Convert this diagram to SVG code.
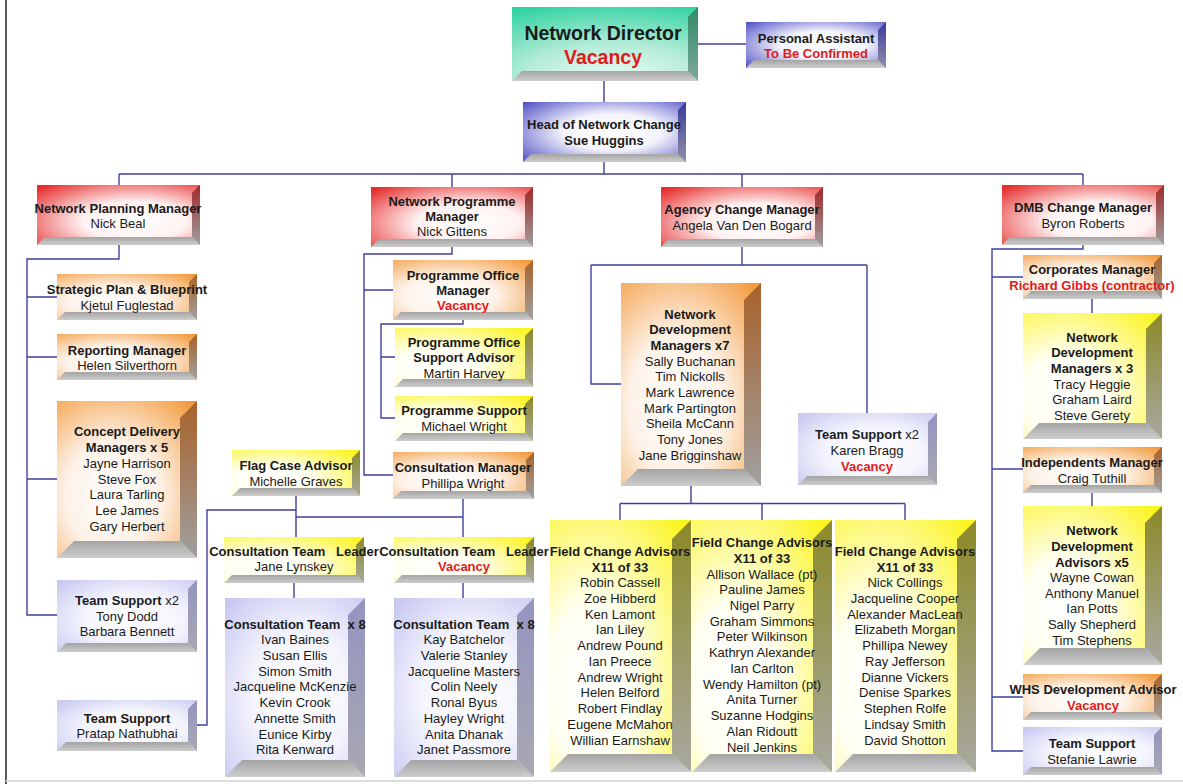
<svg xmlns="http://www.w3.org/2000/svg" width="1183" height="784" viewBox="0 0 1183 784">
<style>
text{font-family:"Liberation Sans",Arial,sans-serif;font-size:13px;text-anchor:middle;fill:#1a1a1a}
.b{font-weight:bold}
.r{font-weight:bold;fill:#e01b1b}
.n{font-weight:normal}
.pre{white-space:pre}
.big{font-size:19.5px;font-weight:bold}
.fG{fill:url(#gG)}.rG{fill:url(#gGr)}
.fB{fill:url(#gB)}.rB{fill:url(#gBr)}
.fL{fill:url(#gL)}.rL{fill:url(#gLr)}
.fR{fill:url(#gR)}.rR{fill:url(#gRr)}
.fO{fill:url(#gO)}.rO{fill:url(#gOr)}
.fY{fill:url(#gY)}.rY{fill:url(#gYr)}
.bot{fill:url(#gBot)}
#connectors path{fill:none;stroke:#3f3f9c;stroke-width:1.4}
</style>
<defs>
<radialGradient id="gG" cx="0.55" cy="1" r="1.1"><stop offset="0" stop-color="#eefcf6"/><stop offset="0.45" stop-color="#b4ecd8"/><stop offset="1" stop-color="#2ed2a0"/></radialGradient>
<linearGradient id="gGr" x1="0" y1="0" x2="0" y2="1"><stop offset="0" stop-color="#2e8a68"/><stop offset="1" stop-color="#7fa898"/></linearGradient>
<radialGradient id="gB" cx="0.55" cy="0.5" r="0.75"><stop offset="0" stop-color="#ffffff"/><stop offset="0.4" stop-color="#f4f4fd"/><stop offset="1" stop-color="#4a4ac4"/></radialGradient>
<linearGradient id="gBr" x1="0" y1="0" x2="0" y2="1"><stop offset="0" stop-color="#3a3a9c"/><stop offset="1" stop-color="#9090a8"/></linearGradient>
<radialGradient id="gL" cx="0.55" cy="0.55" r="0.8"><stop offset="0" stop-color="#ffffff"/><stop offset="0.45" stop-color="#f4f4fd"/><stop offset="1" stop-color="#c2c2f0"/></radialGradient>
<linearGradient id="gLr" x1="0" y1="0" x2="0" y2="1"><stop offset="0" stop-color="#9494c0"/><stop offset="1" stop-color="#a8a8b2"/></linearGradient>
<radialGradient id="gR" cx="0.6" cy="0.6" r="0.8"><stop offset="0" stop-color="#ffffff"/><stop offset="0.4" stop-color="#fff2f2"/><stop offset="1" stop-color="#e62e2e"/></radialGradient>
<linearGradient id="gRr" x1="0" y1="0" x2="0" y2="1"><stop offset="0" stop-color="#a02828"/><stop offset="1" stop-color="#a0a0a0"/></linearGradient>
<radialGradient id="gO" cx="0.4" cy="0.6" r="0.85"><stop offset="0" stop-color="#ffffff"/><stop offset="0.4" stop-color="#fdf2e8"/><stop offset="1" stop-color="#f2922c"/></radialGradient>
<linearGradient id="gOr" x1="0" y1="0" x2="0" y2="1"><stop offset="0" stop-color="#a8622a"/><stop offset="1" stop-color="#a0a0a0"/></linearGradient>
<radialGradient id="gY" cx="0.3" cy="0.65" r="0.9"><stop offset="0" stop-color="#ffffff"/><stop offset="0.35" stop-color="#fffff2"/><stop offset="1" stop-color="#fbf41c"/></radialGradient>
<linearGradient id="gYr" x1="0" y1="0" x2="0" y2="1"><stop offset="0" stop-color="#8c8a28"/><stop offset="1" stop-color="#a8a8a0"/></linearGradient>
<linearGradient id="gBot" x1="0" y1="0" x2="0" y2="1"><stop offset="0" stop-color="#a4a4a4"/><stop offset="1" stop-color="#cdcdcd"/></linearGradient>
</defs>

<rect width="1183" height="784" fill="#ffffff"/>
<line x1="6" y1="0" x2="6" y2="784" stroke="#5a5a5a" stroke-width="2"/>
<line x1="6" y1="781" x2="1183" y2="781" stroke="#dcdcdc" stroke-width="2"/>

<g id="connectors">
<path d="M698 44H746"/>
<path d="M604 81V102"/>
<path d="M604 162V174"/>
<path d="M119 174H1083"/>
<path d="M119 174V185M452 174V187M742 174V187M1083 174V185"/>
<path d="M119 245V259H27V615H57M27 297H57M27 357H57M27 479H57"/>
<path d="M452 247V254H364V475H393M364 290H393"/>
<path d="M463 320V324H381V418H395M381 357H395"/>
<path d="M463 499V537M296 496V537M296 517H463M197 725H207V510H296"/>
<path d="M294 583V598M463 583V598"/>
<path d="M742 247V265M591 265H867M591 265V384H621M867 265V413"/>
<path d="M691 486V503.5M620 503.5H905M620 503.5V520M762 503.5V520M905 503.5V520"/>
<path d="M1083 245V249H992V751H1023M992 277H1023M992 469H1023M992 697H1023"/>
<path d="M1092 299V313M1092 493V506"/>
</g>

<g id="network-director">
<rect x="512" y="7" width="186" height="74" class="fG"/>
<polygon points="688,17 698,7 698,81 688,71" class="rG"/>
<polygon points="512,81 522,71 688,71 698,81" class="bot"/>
<text x="603" y="40" class="big">Network Director</text>
<text x="603" y="64" class="big" style="fill:#e01b1b">Vacancy</text>
</g>

<g id="personal-assistant">
<rect x="746" y="22" width="140" height="46" class="fB"/>
<polygon points="878,30 886,22 886,68 878,60" class="rB"/>
<polygon points="746,68 754,60 878,60 886,68" class="bot"/>
<text x="816" y="43" class="b">Personal Assistant</text>
<text x="816" y="58" class="r">To Be Confirmed</text>
</g>

<g id="head-network-change">
<rect x="523" y="102" width="163" height="60" class="fB"/>
<polygon points="678,110 686,102 686,162 678,154" class="rB"/>
<polygon points="523,162 531,154 678,154 686,162" class="bot"/>
<text x="604" y="129" class="b">Head of Network Change</text>
<text x="604" y="145" class="b">Sue Huggins</text>
</g>

<g id="network-planning-manager">
<rect x="37" y="185" width="163" height="60" class="fR"/>
<polygon points="192,193 200,185 200,245 192,237" class="rR"/>
<polygon points="37,245 45,237 192,237 200,245" class="bot"/>
<text x="118" y="213" class="b">Network Planning Manager</text>
<text x="118" y="228">Nick Beal</text>
</g>

<g id="strategic-plan">
<rect x="57" y="274" width="140" height="46" class="fO"/>
<polygon points="189,282 197,274 197,320 189,312" class="rO"/>
<polygon points="57,320 65,312 189,312 197,320" class="bot"/>
<text x="127" y="294" class="b">Strategic Plan &amp; Blueprint</text>
<text x="127" y="310">Kjetul Fuglestad</text>
</g>

<g id="reporting-manager">
<rect x="57" y="334" width="140" height="46" class="fO"/>
<polygon points="189,342 197,334 197,380 189,372" class="rO"/>
<polygon points="57,380 65,372 189,372 197,380" class="bot"/>
<text x="127" y="355" class="b">Reporting Manager</text>
<text x="127" y="370">Helen Silverthorn</text>
</g>

<g id="concept-delivery">
<rect x="57" y="401" width="140" height="157" class="fO"/>
<polygon points="180,418 197,401 197,558 180,541" class="rO"/>
<polygon points="57,558 74,541 180,541 197,558" class="bot"/>
<text x="127" y="436" class="b">Concept Delivery</text>
<text x="127" y="452" class="b">Managers x 5</text>
<text x="127" y="468">Jayne Harrison</text>
<text x="127" y="484">Steve Fox</text>
<text x="127" y="499">Laura Tarling</text>
<text x="127" y="515">Lee James</text>
<text x="127" y="531">Gary Herbert</text>
</g>

<g id="team-support-left">
<rect x="57" y="580" width="140" height="72" class="fL"/>
<polygon points="188,589 197,580 197,652 188,643" class="rL"/>
<polygon points="57,652 66,643 188,643 197,652" class="bot"/>
<text x="127" y="605"><tspan class="b">Team Support</tspan> x2</text>
<text x="127" y="621">Tony Dodd</text>
<text x="127" y="636">Barbara Bennett</text>
</g>

<g id="team-support-pratap">
<rect x="57" y="700" width="140" height="51" class="fL"/>
<polygon points="188,709 197,700 197,751 188,742" class="rL"/>
<polygon points="57,751 66,742 188,742 197,751" class="bot"/>
<text x="127" y="723" class="b">Team Support</text>
<text x="127" y="738">Pratap Nathubhai</text>
</g>

<g id="network-programme-manager">
<rect x="371" y="187" width="162" height="60" class="fR"/>
<polygon points="525,195 533,187 533,247 525,239" class="rR"/>
<polygon points="371,247 379,239 525,239 533,247" class="bot"/>
<text x="452" y="206" class="b">Network Programme</text>
<text x="452" y="221" class="b">Manager</text>
<text x="452" y="236">Nick Gittens</text>
</g>

<g id="programme-office-manager">
<rect x="393" y="260" width="140" height="60" class="fO"/>
<polygon points="525,268 533,260 533,320 525,312" class="rO"/>
<polygon points="393,320 401,312 525,312 533,320" class="bot"/>
<text x="463" y="280" class="b">Programme Office</text>
<text x="463" y="295" class="b">Manager</text>
<text x="463" y="310" class="r">Vacancy</text>
</g>

<g id="programme-office-support">
<rect x="395" y="328" width="138" height="59" class="fY"/>
<polygon points="525,336 533,328 533,387 525,379" class="rY"/>
<polygon points="395,387 403,379 525,379 533,387" class="bot"/>
<text x="464" y="347" class="b">Programme Office</text>
<text x="464" y="362" class="b">Support Advisor</text>
<text x="464" y="378">Martin Harvey</text>
</g>

<g id="programme-support">
<rect x="395" y="396" width="138" height="45" class="fY"/>
<polygon points="525,404 533,396 533,441 525,433" class="rY"/>
<polygon points="395,441 403,433 525,433 533,441" class="bot"/>
<text x="464" y="415" class="b">Programme Support</text>
<text x="464" y="431">Michael Wright</text>
</g>

<g id="consultation-manager">
<rect x="393" y="452" width="141" height="47" class="fO"/>
<polygon points="526,460 534,452 534,499 526,491" class="rO"/>
<polygon points="393,499 401,491 526,491 534,499" class="bot"/>
<text x="463" y="472" class="b">Consultation Manager</text>
<text x="463" y="488">Phillipa Wright</text>
</g>

<g id="flag-case-advisor">
<rect x="232" y="450" width="128" height="46" class="fY"/>
<polygon points="352,458 360,450 360,496 352,488" class="rY"/>
<polygon points="232,496 240,488 352,488 360,496" class="bot"/>
<text x="296" y="470" class="b">Flag Case Advisor</text>
<text x="296" y="486">Michelle Graves</text>
</g>

<g id="consultation-team-leader-1">
<rect x="224" y="537" width="140" height="46" class="fY"/>
<polygon points="356,545 364,537 364,583 356,575" class="rY"/>
<polygon points="224,583 232,575 356,575 364,583" class="bot"/>
<text x="294" y="556" class="b pre">Consultation Team   Leader</text>
<text x="294" y="571">Jane Lynskey</text>
</g>

<g id="consultation-team-leader-2">
<rect x="394" y="537" width="140" height="46" class="fY"/>
<polygon points="526,545 534,537 534,583 526,575" class="rY"/>
<polygon points="394,583 402,575 526,575 534,583" class="bot"/>
<text x="464" y="556" class="b pre">Consultation Team   Leader</text>
<text x="464" y="571" class="r">Vacancy</text>
</g>

<g id="consultation-team-1">
<rect x="225" y="598" width="140" height="179" class="fL"/>
<polygon points="348,615 365,598 365,777 348,760" class="rL"/>
<polygon points="225,777 242,760 348,760 365,777" class="bot"/>
<text x="295" y="629" class="b pre">Consultation Team  x 8</text>
<text x="295" y="644">Ivan Baines</text>
<text x="295" y="660">Susan Ellis</text>
<text x="295" y="676">Simon Smith</text>
<text x="295" y="691">Jacqueline McKenzie</text>
<text x="295" y="707">Kevin Crook</text>
<text x="295" y="723">Annette Smith</text>
<text x="295" y="739">Eunice Kirby</text>
<text x="295" y="754">Rita Kenward</text>
</g>

<g id="consultation-team-2">
<rect x="394" y="598" width="140" height="179" class="fL"/>
<polygon points="517,615 534,598 534,777 517,760" class="rL"/>
<polygon points="394,777 411,760 517,760 534,777" class="bot"/>
<text x="464" y="629" class="b pre">Consultation Team  x 8</text>
<text x="464" y="644">Kay Batchelor</text>
<text x="464" y="660">Valerie Stanley</text>
<text x="464" y="676">Jacqueline Masters</text>
<text x="464" y="691">Colin Neely</text>
<text x="464" y="707">Ronal Byus</text>
<text x="464" y="723">Hayley Wright</text>
<text x="464" y="739">Anita Dhanak</text>
<text x="464" y="754">Janet Passmore</text>
</g>

<g id="agency-change-manager">
<rect x="661" y="187" width="162" height="60" class="fR"/>
<polygon points="815,195 823,187 823,247 815,239" class="rR"/>
<polygon points="661,247 669,239 815,239 823,247" class="bot"/>
<text x="742" y="214" class="b">Agency Change Manager</text>
<text x="742" y="230">Angela Van Den Bogard</text>
</g>

<g id="network-development-managers-7">
<rect x="621" y="283" width="140" height="203" class="fO"/>
<polygon points="744,300 761,283 761,486 744,469" class="rO"/>
<polygon points="621,486 638,469 744,469 761,486" class="bot"/>
<text x="690" y="318.5" class="b">Network</text>
<text x="690" y="334" class="b">Development</text>
<text x="690" y="350" class="b">Managers x7</text>
<text x="690" y="365.5">Sally Buchanan</text>
<text x="690" y="381">Tim Nickolls</text>
<text x="690" y="397">Mark Lawrence</text>
<text x="690" y="412.5">Mark Partington</text>
<text x="690" y="428">Sheila McCann</text>
<text x="690" y="444">Tony Jones</text>
<text x="690" y="459.5">Jane Brigginshaw</text>
</g>

<g id="team-support-agency">
<rect x="798" y="413" width="139" height="72" class="fL"/>
<polygon points="928,422 937,413 937,485 928,476" class="rL"/>
<polygon points="798,485 807,476 928,476 937,485" class="bot"/>
<text x="867" y="439"><tspan class="b">Team Support</tspan> x2</text>
<text x="867" y="455">Karen Bragg</text>
<text x="867" y="471" class="r">Vacancy</text>
</g>

<g id="field-change-advisors-1">
<rect x="550" y="520" width="141" height="252" class="fY"/>
<polygon points="672,539 691,520 691,772 672,754" class="rY"/>
<polygon points="550,772 568,754 672,754 691,772" class="bot"/>
<text x="620" y="556" class="b">Field Change Advisors</text>
<text x="620" y="571.5" class="b">X11 of 33</text>
<text x="620" y="587">Robin Cassell</text>
<text x="620" y="603">Zoe Hibberd</text>
<text x="620" y="618.5">Ken Lamont</text>
<text x="620" y="634">Ian Liley</text>
<text x="620" y="650">Andrew Pound</text>
<text x="620" y="666">Ian Preece</text>
<text x="620" y="681.5">Andrew Wright</text>
<text x="620" y="697">Helen Belford</text>
<text x="620" y="713">Robert Findlay</text>
<text x="620" y="729">Eugene McMahon</text>
<text x="620" y="745">Willian Earnshaw</text>
</g>

<g id="field-change-advisors-2">
<rect x="692" y="520" width="140" height="252" class="fY"/>
<polygon points="813,539 832,520 832,772 813,754" class="rY"/>
<polygon points="692,772 710,754 813,754 832,772" class="bot"/>
<text x="762" y="547" class="b">Field Change Advisors</text>
<text x="762" y="563" class="b">X11 of 33</text>
<text x="762" y="578.5">Allison Wallace (pt)</text>
<text x="762" y="594">Pauline James</text>
<text x="762" y="610">Nigel Parry</text>
<text x="762" y="625.5">Graham Simmons</text>
<text x="762" y="641">Peter Wilkinson</text>
<text x="762" y="657">Kathryn Alexander</text>
<text x="762" y="672.5">Ian Carlton</text>
<text x="762" y="688.5">Wendy Hamilton (pt)</text>
<text x="762" y="704">Anita Turner</text>
<text x="762" y="720">Suzanne Hodgins</text>
<text x="762" y="735.5">Alan Ridoutt</text>
<text x="762" y="751.5">Neil Jenkins</text>
</g>

<g id="field-change-advisors-3">
<rect x="835" y="520" width="141" height="252" class="fY"/>
<polygon points="957,539 976,520 976,772 957,754" class="rY"/>
<polygon points="835,772 853,754 957,754 976,772" class="bot"/>
<text x="905" y="556" class="b">Field Change Advisors</text>
<text x="905" y="571.5" class="b">X11 of 33</text>
<text x="905" y="587">Nick Collings</text>
<text x="905" y="603">Jacqueline Cooper</text>
<text x="905" y="618.5">Alexander MacLean</text>
<text x="905" y="634">Elizabeth Morgan</text>
<text x="905" y="650">Phillipa Newey</text>
<text x="905" y="666">Ray Jefferson</text>
<text x="905" y="681.5">Dianne Vickers</text>
<text x="905" y="697">Denise Sparkes</text>
<text x="905" y="713">Stephen Rolfe</text>
<text x="905" y="729">Lindsay Smith</text>
<text x="905" y="745">David Shotton</text>
</g>

<g id="dmb-change-manager">
<rect x="1002" y="185" width="162" height="60" class="fR"/>
<polygon points="1156,193 1164,185 1164,245 1156,237" class="rR"/>
<polygon points="1002,245 1010,237 1156,237 1164,245" class="bot"/>
<text x="1083" y="212" class="b">DMB Change Manager</text>
<text x="1083" y="228">Byron Roberts</text>
</g>

<g id="corporates-manager">
<rect x="1023" y="255" width="139" height="44" class="fO"/>
<polygon points="1154,263 1162,255 1162,299 1154,291" class="rO"/>
<polygon points="1023,299 1031,291 1154,291 1162,299" class="bot"/>
<text x="1092" y="273.5" class="b">Corporates Manager</text>
<text x="1092" y="289.5" class="r">Richard Gibbs (contractor)</text>
</g>

<g id="network-development-managers-3">
<rect x="1023" y="313" width="139" height="126" class="fY"/>
<polygon points="1146,329 1162,313 1162,439 1146,423" class="rY"/>
<polygon points="1023,439 1039,423 1146,423 1162,439" class="bot"/>
<text x="1092" y="341.5" class="b">Network</text>
<text x="1092" y="357" class="b">Development</text>
<text x="1092" y="373" class="b">Managers x 3</text>
<text x="1092" y="388.5">Tracy Heggie</text>
<text x="1092" y="404">Graham Laird</text>
<text x="1092" y="420">Steve Gerety</text>
</g>

<g id="independents-manager">
<rect x="1023" y="447" width="139" height="46" class="fO"/>
<polygon points="1154,455 1162,447 1162,493 1154,485" class="rO"/>
<polygon points="1023,493 1031,485 1154,485 1162,493" class="bot"/>
<text x="1092" y="467" class="b">Independents Manager</text>
<text x="1092" y="483">Craig Tuthill</text>
</g>

<g id="network-development-advisors-5">
<rect x="1023" y="506" width="139" height="159" class="fY"/>
<polygon points="1145,523 1162,506 1162,665 1145,648" class="rY"/>
<polygon points="1023,665 1040,648 1145,648 1162,665" class="bot"/>
<text x="1092" y="535" class="b">Network</text>
<text x="1092" y="551" class="b">Development</text>
<text x="1092" y="566.5" class="b">Advisors x5</text>
<text x="1092" y="582">Wayne Cowan</text>
<text x="1092" y="597.5">Anthony Manuel</text>
<text x="1092" y="613">Ian Potts</text>
<text x="1092" y="629">Sally Shepherd</text>
<text x="1092" y="644.5">Tim Stephens</text>
</g>

<g id="whs-development-advisor">
<rect x="1023" y="674" width="139" height="46" class="fO"/>
<polygon points="1154,682 1162,674 1162,720 1154,712" class="rO"/>
<polygon points="1023,720 1031,712 1154,712 1162,720" class="bot"/>
<text x="1093" y="694" class="b">WHS Development Advisor</text>
<text x="1093" y="709.5" class="r">Vacancy</text>
</g>

<g id="team-support-dmb">
<rect x="1023" y="727" width="139" height="48" class="fL"/>
<polygon points="1154,735 1162,727 1162,775 1154,767" class="rL"/>
<polygon points="1023,775 1031,767 1154,767 1162,775" class="bot"/>
<text x="1092" y="748" class="b">Team Support</text>
<text x="1092" y="763.5">Stefanie Lawrie</text>
</g>
</svg>
